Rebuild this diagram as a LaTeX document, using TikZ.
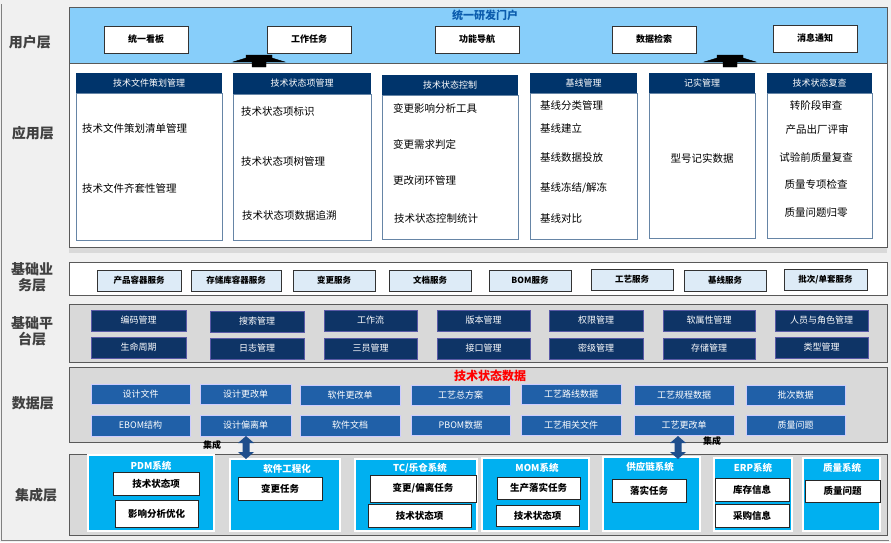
\documentclass[tikz,border=0pt]{standalone}
\usepackage{fontspec}
\setmainfont{Noto Sans CJK SC}
\usetikzlibrary{arrows.meta}
\definecolor{bg}{HTML}{F0F0F0}
\definecolor{ublue}{HTML}{87CEFA}
\definecolor{navy}{HTML}{0E3466}
\definecolor{hdr}{HTML}{00346B}
\definecolor{pgray}{HTML}{D9D9D9}
\definecolor{dblue}{HTML}{2060A8}
\definecolor{sblue}{HTML}{00B0F0}
\definecolor{lbl}{HTML}{DDEBF7}
\definecolor{ttl}{HTML}{0B5CAD}
\definecolor{arr}{HTML}{1F4E8C}
\definecolor{lay}{HTML}{404040}
\newcommand\bx[7]{\node[#1,minimum width={(#5-#3)*1pt},minimum height={(#6-#4)*1pt}] (#2) at ({(#3+#5)/2},{(#4+#6)/2}) {#7};}
\newcommand\dblarrow[3]{\fill[arr] (#1,#2) -- (#1+8,#2+7) -- (#1+3.5,#2+7) -- (#1+3.5,#3-7) -- (#1+8,#3-7) -- (#1,#3) -- (#1-8,#3-7) -- (#1-3.5,#3-7) -- (#1-3.5,#2+7) -- (#1-8,#2+7) -- cycle;}
\begin{document}
\begin{tikzpicture}[x=1pt,y=-1pt,inner sep=0pt,outer sep=0pt,
 panel/.style={draw=gray!70!black,line width=0.8pt},
 ubox/.style={draw=black!80,fill=white,line width=0.6pt,font=\fontsize{9}{10}\selectfont\bfseries},
 hbox/.style={fill=hdr,text=white,font=\fontsize{9}{10}\selectfont},
 body/.style={draw=hdr!60,fill=white,line width=0.8pt},
 itm/.style={anchor=west,font=\fontsize{10.5}{12}\selectfont},
 citm/.style={font=\fontsize{10.5}{12}\selectfont},
 sbox/.style={draw=black!80,fill=lbl,line width=0.6pt,font=\fontsize{8.5}{10}\selectfont\bfseries},
 pbox/.style={draw=blue!30!gray,fill=navy,line width=1pt,text=white,font=\fontsize{9}{10}\selectfont},
 dbox/.style={fill=dblue,draw=white!80!blue,line width=0.5pt,text=white,font=\fontsize{9}{10}\selectfont},
 sys/.style={fill=sblue,draw=white,line width=1.2pt},
 systtl/.style={text=white,font=\fontsize{9.5}{10}\selectfont\bfseries},
 wbox/.style={draw=black!85,fill=white,line width=0.8pt,font=\fontsize{9.5}{10}\selectfont\bfseries},
 layer/.style={text=lay,font=\fontsize{14}{16}\selectfont\bfseries,align=center},
 uparr/.style={fill=black}]
\useasboundingbox (0,0) rectangle (891,542);
\fill[bg] (0,0) rectangle (891,542);
\draw[gray,line width=0.6pt] (1,4) -- (1,540) -- (889,540);
% layer labels
\node[layer] (L1) at (30,42) {用户层};
\node[layer] (L2) at (33,133) {应用层};
\node[layer] (L3) at (32,277) {基础业\\务层};
\node[layer] (L4) at (32,331) {基础平\\台层};
\node[layer] (L5) at (33,403) {数据层};
\node[layer] (L6) at (36,495) {集成层};
% user layer
\bx{panel,fill=ublue}{UP}{69}{7}{887}{63}{}
\node[text=ttl,font=\fontsize{11}{12}\selectfont\bfseries] (UT) at (485,15) {统一研发门户};
\bx{ubox}{U1}{104}{26}{188}{53}{统一看板}
\bx{ubox}{U2}{267}{26}{351}{53}{工作任务}
\bx{ubox}{U3}{435}{26}{519}{53}{功能导航}
\bx{ubox}{U4}{612}{26}{696}{53}{数据检索}
\bx{ubox}{U5}{773}{25}{857}{52}{消息通知}
% application layer
\fill[pgray] (69,245) rectangle (887,253);
\bx{panel,fill=white}{AP}{69}{63}{887}{247}{}
\draw[uparr] (233,62) -- (246,58) -- (246,55) -- (272,55) -- (272,58) -- (285,62) -- (266,62) -- (266,67) -- (252,67) -- (252,62) -- cycle;
\draw[uparr] (704,62) -- (717,58) -- (717,55) -- (743,55) -- (743,58) -- (756,62) -- (737,62) -- (737,67) -- (723,67) -- (723,62) -- cycle;
\bx{body}{B1}{76}{93}{222}{240}{}
\bx{hbox}{H1}{76}{73}{222}{93}{技术文件策划管理}
\bx{body}{B2}{233}{94}{371}{240}{}
\bx{hbox}{H2}{233}{73}{371}{94}{技术状态项管理}
\bx{body}{B3}{382}{95}{518}{239}{}
\bx{hbox}{H3}{382}{75}{518}{95}{技术状态控制}
\bx{body}{B4}{530}{93}{637}{239}{}
\bx{hbox}{H4}{530}{73}{637}{93}{基线管理}
\bx{body}{B5}{649}{93}{755}{238}{}
\bx{hbox}{H5}{649}{73}{755}{93}{记实管理}
\bx{body}{B6}{767}{93}{872}{238}{}
\bx{hbox}{H6}{767}{73}{872}{93}{技术状态复查}
\node[itm] (a11) at (82,128) {技术文件策划清单管理};
\node[itm] (a12) at (82,188) {技术文件齐套性管理};
\node[itm] (a21) at (241,111) {技术状态项标识};
\node[itm] (a22) at (241,161) {技术状态项树管理};
\node[itm] (a23) at (242,215) {技术状态项数据追溯};
\node[itm] (a31) at (393,108) {变更影响分析工具};
\node[itm] (a32) at (393,144) {变更需求判定};
\node[itm] (a33) at (393,181) {更改闭环管理};
\node[itm] (a34) at (394,218) {技术状态控制统计};
\node[itm] (a41) at (540,105) {基线分类管理};
\node[itm] (a42) at (540,128) {基线建立};
\node[itm] (a43) at (540,158) {基线数据投放};
\node[itm] (a44) at (540,188) {基线冻结/解冻};
\node[itm] (a45) at (540,218) {基线对比};
\node[citm] (a51) at (702,158) {型号记实数据};
\node[citm] (a61) at (816,105) {转阶段审查};
\node[citm] (a62) at (817,130) {产品出厂评审};
\node[citm] (a63) at (816,157) {试验前质量复查};
\node[citm] (a64) at (816,184) {质量专项检查};
\node[citm] (a65) at (816,213) {质量问题归零};
% basic business layer
\bx{panel,fill=white}{BP}{69}{262}{887}{295}{}
\bx{sbox}{S1}{97}{270}{181}{291}{产品容器服务}
\bx{sbox}{S2}{191}{270}{281}{291}{存储库容器服务}
\bx{sbox}{S3}{293}{270}{375}{291}{变更服务}
\bx{sbox}{S4}{389}{270}{471}{291}{文档服务}
\bx{sbox}{S5}{489}{270}{571}{291}{BOM服务}
\bx{sbox}{S6}{591}{269}{673}{290}{工艺服务}
\bx{sbox}{S7}{684}{270}{766}{291}{基线服务}
\bx{sbox}{S8}{784}{269}{867}{290}{批次/单套服务}
% platform layer
\bx{panel,fill=pgray}{PP}{69}{304}{887}{362}{}
\bx{pbox}{P1}{91}{310}{186}{331}{编码管理}
\bx{pbox}{P2}{210}{311}{304}{332}{搜索管理}
\bx{pbox}{P3}{324}{310}{417}{331}{工作流}
\bx{pbox}{P4}{437}{310}{530}{331}{版本管理}
\bx{pbox}{P5}{549}{310}{643}{331}{权限管理}
\bx{pbox}{P6}{663}{310}{755}{331}{软属性管理}
\bx{pbox}{P7}{775}{310}{868}{331}{人员与角色管理}
\bx{pbox}{Q1}{91}{337}{186}{358}{生命周期}
\bx{pbox}{Q2}{210}{338}{304}{359}{日志管理}
\bx{pbox}{Q3}{324}{338}{417}{359}{三员管理}
\bx{pbox}{Q4}{437}{338}{530}{359}{接口管理}
\bx{pbox}{Q5}{549}{338}{643}{359}{密级管理}
\bx{pbox}{Q6}{663}{338}{755}{359}{存储管理}
\bx{pbox}{Q7}{775}{337}{868}{358}{类型管理}
% data layer
\bx{panel,fill=pgray}{DP}{69}{367}{887}{442}{}
\node[text=red,font=\fontsize{12}{13}\selectfont\bfseries] (DT) at (490,376) {技术状态数据};
\bx{dbox}{D1}{91}{384}{190}{404}{设计文件}
\bx{dbox}{D2}{200}{384}{291}{404}{设计更改单}
\bx{dbox}{D3}{300}{385}{400}{405}{软件更改单}
\bx{dbox}{D4}{411}{385}{510}{405}{工艺总方案}
\bx{dbox}{D5}{521}{384}{621}{404}{工艺路线数据}
\bx{dbox}{D6}{634}{385}{734}{405}{工艺规程数据}
\bx{dbox}{D7}{746}{385}{845}{405}{批次数据}
\bx{dbox}{E1}{91}{415}{190}{436}{EBOM结构}
\bx{dbox}{E2}{200}{415}{291}{436}{设计偏离单}
\bx{dbox}{E3}{300}{415}{400}{436}{软件文档}
\bx{dbox}{E4}{411}{415}{510}{435}{PBOM数据}
\bx{dbox}{E5}{521}{415}{621}{435}{工艺相关文件}
\bx{dbox}{E6}{634}{415}{734}{435}{工艺更改单}
\bx{dbox}{E7}{746}{415}{845}{435}{质量问题}
% integration layer
\bx{panel,fill=pgray}{IP}{69}{454}{887}{535}{}
\bx{sys}{Y1}{88}{455}{214}{531}{}
\node[systtl] (Y1t) at (151,466) {PDM系统};
\bx{wbox}{Y11}{113}{472}{199}{495}{技术状态项}
\bx{wbox}{Y12}{115}{500}{198}{527}{影响分析优化}
\bx{sys}{Y2}{230}{459}{340}{531}{}
\node[systtl] (Y2t) at (287,469) {软件工程化};
\bx{wbox}{Y21}{238}{477}{322}{500}{变更任务}
\bx{sys}{Y3}{355}{459}{477}{531}{}
\node[systtl] (Y3t) at (420,468) {TC/乐仓系统};
\bx{wbox}{Y31}{370}{475}{476}{502}{变更/偏离任务}
\bx{wbox}{Y32}{368}{504}{471}{527}{技术状态项}
\bx{sys}{Y4}{482}{458}{589}{531}{}
\node[systtl] (Y4t) at (537,468) {MOM系统};
\bx{wbox}{Y41}{497}{477}{580}{499}{生产落实任务}
\bx{wbox}{Y42}{496}{505}{579}{526}{技术状态项}
\bx{sys}{Y5}{603}{457}{700}{531}{}
\node[systtl] (Y5t) at (650,467) {供应链系统};
\bx{wbox}{Y51}{612}{479}{686}{502}{落实任务}
\bx{sys}{Y6}{714}{458}{792}{531}{}
\node[systtl] (Y6t) at (753,468) {ERP系统};
\bx{wbox}{Y61}{715}{478}{789}{501}{库存信息}
\bx{wbox}{Y62}{715}{504}{789}{527}{采购信息}
\bx{sys}{Y7}{803}{458}{880}{531}{}
\node[systtl] (Y7t) at (842,468) {质量系统};
\bx{wbox}{Y71}{805}{480}{880}{502}{质量问题}
% integration arrows (E2 <-> Y2, E6 <-> Y5)
\dblarrow{246}{436}{459}
\dblarrow{678}{436}{459}
\node[font=\fontsize{9}{10}\selectfont\bfseries] (j1) at (212,445) {集成};
\node[font=\fontsize{9}{10}\selectfont\bfseries] (j2) at (712,441) {集成};
\end{tikzpicture}
\end{document}
